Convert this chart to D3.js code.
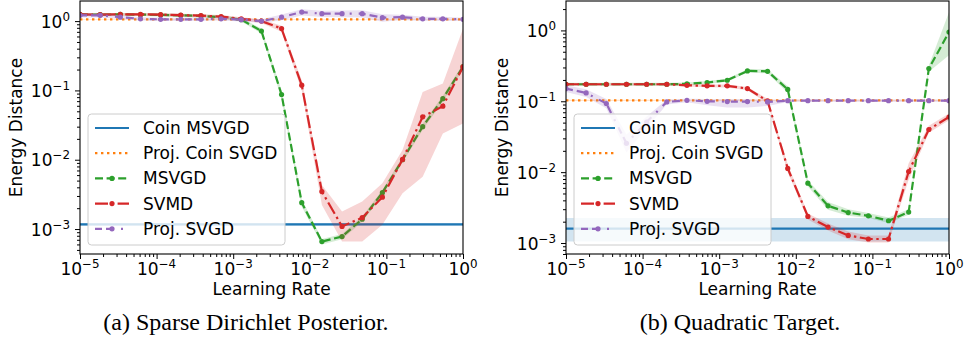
<!DOCTYPE html>
<html>
<head>
<meta charset="utf-8">
<script src="https://cdn.jsdelivr.net/npm/d3@7"></script>
<style>
  body { margin: 0; background: #fff; }
  svg { display: block; }
  text { font-family: "DejaVu Sans", sans-serif; fill: #000; }
  .caption { font-family: "Liberation Serif", "Times New Roman", serif; }
</style>
</head>
<body>
<svg id="fig" width="965" height="352"></svg>
<script>
// Learning rates swept (20 log-spaced values from 1e-5 to 1)
const learningRates = [1e-5, 1.833e-5, 3.360e-5, 6.158e-5, 1.129e-4, 2.069e-4, 3.793e-4, 6.952e-4,
  1.274e-3, 2.336e-3, 4.281e-3, 7.848e-3, 1.438e-2, 2.637e-2, 4.833e-2, 8.859e-2,
  0.1624, 0.2976, 0.5456, 1.0];

const seriesNames = ["Coin MSVGD", "Proj. Coin SVGD", "MSVGD", "SVMD", "Proj. SVGD"];
const seriesColors = ["#1f77b4", "#ff7f0e", "#2ca02c", "#d62728", "#9467bd"];

const xTickExponents = [-5, -4, -3, -2, -1, 0];
const yTickExponents = [-3, -2, -1, 0];
const captions = ["(a) Sparse Dirichlet Posterior.", "(b) Quadratic Target."];

// ---- (a) Sparse Dirichlet posterior ----
const dirCoinMsvgd = [1.17e-3, 1.12e-3, 1.22e-3];      // value, lower, upper
const dirProjCoinSvgd = [1.06, 1.05, 1.07];
const dirMsvgd   = [1.25, 1.24, 1.25, 1.24, 1.23, 1.21, 1.19, 1.14, 1.05, 0.72, 0.087, 2.4e-3, 6.6e-4, 7.8e-4, 1.39e-3, 3.35e-3, 0.0100, 0.030, 0.076, 0.22];
const dirMsvgdLo = [1.19, 1.18, 1.19, 1.18, 1.17, 1.15, 1.13, 1.08, 0.99, 0.66, 0.075, 2.1e-3, 6.0e-4, 7.1e-4, 1.27e-3, 3.05e-3, 0.0091, 0.027, 0.069, 0.20];
const dirMsvgdHi = [1.31, 1.30, 1.31, 1.30, 1.29, 1.27, 1.25, 1.20, 1.11, 0.78, 0.10, 2.7e-3, 7.2e-4, 8.5e-4, 1.52e-3, 3.65e-3, 0.0110, 0.033, 0.084, 0.24];
const dirSvmd    = [1.25, 1.24, 1.25, 1.25, 1.24, 1.22, 1.20, 1.16, 1.08, 1.00, 0.78, 0.119, 3.47e-3, 1.09e-3, 1.46e-3, 2.88e-3, 0.0101, 0.0416, 0.0593, 0.218];
const dirSvmdLo  = [1.19, 1.18, 1.19, 1.19, 1.18, 1.16, 1.14, 1.10, 1.02, 0.94, 0.70, 0.100, 2.23e-3, 6.6e-4, 6.6e-4, 1.15e-3, 3.29e-3, 5.7e-3, 0.024, 0.0334];
const dirSvmdHi  = [1.31, 1.30, 1.31, 1.31, 1.30, 1.28, 1.26, 1.22, 1.14, 1.06, 0.86, 0.14, 4.32e-3, 1.79e-3, 2.49e-3, 4.57e-3, 0.0138, 0.0951, 0.126, 0.778];
const dirProjSvgd   = [1.21, 1.21, 1.14, 1.08, 1.06, 1.06, 1.06, 1.08, 1.05, 1.00, 1.14, 1.35, 1.28, 1.28, 1.28, 1.12, 1.14, 1.08, 1.08, 1.06];
const dirProjSvgdLo = [1.13, 1.13, 1.07, 1.02, 1.00, 1.00, 1.00, 1.02, 0.99, 0.94, 1.03, 1.20, 1.15, 1.14, 1.13, 0.98, 1.04, 1.00, 1.00, 1.00];
const dirProjSvgdHi = [1.29, 1.29, 1.21, 1.14, 1.12, 1.12, 1.12, 1.14, 1.11, 1.06, 1.25, 1.48, 1.41, 1.42, 1.43, 1.26, 1.24, 1.16, 1.16, 1.12];

// ---- (b) Quadratic target ----
const quadCoinMsvgd = [1.6e-3, 1.05e-3, 2.25e-3];
const quadProjCoinSvgd = [0.103, 0.101, 0.105];
const quadMsvgd   = [0.174, 0.174, 0.174, 0.174, 0.174, 0.174, 0.176, 0.184, 0.198, 0.268, 0.265, 0.147, 6.98e-3, 3.35e-3, 2.69e-3, 2.42e-3, 2.06e-3, 2.73e-3, 0.289, 0.947];
const quadMsvgdLo = [0.166, 0.166, 0.166, 0.166, 0.166, 0.166, 0.168, 0.175, 0.188, 0.254, 0.248, 0.132, 6.25e-3, 2.94e-3, 2.43e-3, 2.25e-3, 1.92e-3, 2.5e-3, 0.26, 0.445];
const quadMsvgdHi = [0.182, 0.182, 0.182, 0.182, 0.182, 0.182, 0.184, 0.193, 0.208, 0.282, 0.282, 0.163, 7.6e-3, 3.8e-3, 3.0e-3, 2.65e-3, 2.3e-3, 3.0e-3, 0.32, 1.81];
const quadSvmd    = [0.174, 0.174, 0.174, 0.174, 0.174, 0.174, 0.168, 0.165, 0.165, 0.151, 0.101, 0.0113, 2.37e-3, 1.68e-3, 1.28e-3, 1.14e-3, 1.14e-3, 0.0102, 0.040, 0.060];
const quadSvmdLo  = [0.167, 0.167, 0.167, 0.167, 0.167, 0.167, 0.161, 0.158, 0.157, 0.143, 0.094, 0.0100, 2.15e-3, 1.5e-3, 1.13e-3, 1.02e-3, 1.02e-3, 7.8e-3, 0.036, 0.054];
const quadSvmdHi  = [0.181, 0.181, 0.181, 0.181, 0.181, 0.181, 0.175, 0.172, 0.173, 0.159, 0.108, 0.0128, 2.6e-3, 1.88e-3, 1.45e-3, 1.28e-3, 1.28e-3, 0.0133, 0.045, 0.067];
const quadProjSvgd   = [0.151, 0.131, 0.093, 0.0255, 0.051, 0.098, 0.103, 0.100, 0.099, 0.099, 0.098, 0.102, 0.102, 0.102, 0.102, 0.102, 0.102, 0.102, 0.102, 0.102];
const quadProjSvgdLo = [0.135, 0.115, 0.080, 0.019, 0.042, 0.090, 0.097, 0.088, 0.082, 0.082, 0.086, 0.098, 0.098, 0.098, 0.098, 0.098, 0.098, 0.098, 0.098, 0.098];
const quadProjSvgdHi = [0.168, 0.148, 0.108, 0.034, 0.061, 0.106, 0.109, 0.108, 0.108, 0.108, 0.106, 0.106, 0.106, 0.106, 0.106, 0.106, 0.106, 0.106, 0.106, 0.106];

// Line styles per series: dash pattern and whether point markers are drawn
const lineStyles = [
  { dash: null, marker: false },
  { dash: "2.4,3.6", marker: false },
  { dash: "8,3.6", marker: true },
  { dash: "13,3.6,2.4,3.6", marker: true },
  { dash: "7,4,8,7,2,7", marker: true }
];

const panels = [
  {
    left: 80, yDomain: [Math.pow(10, -3.36), Math.pow(10, 0.29)],
    ylabelX: 22, tickLabelX: 70, caption: captions[0], captionX: 246,
    constants: [dirCoinMsvgd, dirProjCoinSvgd],
    curves: [[dirMsvgd, dirMsvgdLo, dirMsvgdHi], [dirSvmd, dirSvmdLo, dirSvmdHi], [dirProjSvgd, dirProjSvgdLo, dirProjSvgdHi]]
  },
  {
    left: 566, yDomain: [Math.pow(10, -3.155), Math.pow(10, 0.415)],
    ylabelX: 508, tickLabelX: 556, caption: captions[1], captionX: 740,
    constants: [quadCoinMsvgd, quadProjCoinSvgd],
    curves: [[quadMsvgd, quadMsvgdLo, quadMsvgdHi], [quadSvmd, quadSvmdLo, quadSvmdHi], [quadProjSvgd, quadProjSvgdLo, quadProjSvgdHi]]
  }
];

const svg = d3.select("#fig");
const plotW = 383, plotTop = 1, plotBottom = 254;
const fontSize = 17, supSize = 11.9;
const lineW = 2.2, markerR = 2.6, bandOpacity = 0.2;

function minorTicks(lo, hi) {
  const out = [];
  for (let e = Math.floor(Math.log10(lo)); e <= Math.ceil(Math.log10(hi)); e++) {
    for (let m = 2; m <= 9; m++) {
      const v = m * Math.pow(10, e);
      if (v >= lo && v <= hi) out.push(v);
    }
  }
  return out;
}

function powerLabel(sel, exp) {
  sel.append("tspan").text("10");
  sel.append("tspan").attr("font-size", supSize).attr("dy", -7)
    .text(exp < 0 ? "\u2212" + (-exp) : String(exp));
}

panels.forEach((p, idx) => {
  const x = d3.scaleLog().domain([1e-5, 1]).range([p.left, p.left + plotW]);
  const y = d3.scaleLog().domain(p.yDomain).range([plotBottom, plotTop]);
  const g = svg.append("g");

  const clipId = "plot-clip-" + idx;
  g.append("clipPath").attr("id", clipId).append("rect")
    .attr("x", p.left).attr("y", plotTop).attr("width", plotW).attr("height", plotBottom - plotTop);
  const plot = g.append("g").attr("clip-path", `url(#${clipId})`);

  // Horizontal reference results (coin-based methods) with spread bands
  p.constants.forEach((c, k) => {
    const color = seriesColors[k];
    const ends = x.domain();
    plot.append("path")
      .datum(ends)
      .attr("d", d3.area().x(d => x(d)).y0(y(c[1])).y1(y(c[2])))
      .attr("fill", color).attr("fill-opacity", bandOpacity);
    plot.append("path")
      .datum(ends)
      .attr("d", d3.line().x(d => x(d)).y(y(c[0])))
      .attr("fill", "none").attr("stroke", color).attr("stroke-width", lineW)
      .attr("stroke-dasharray", lineStyles[k].dash);
  });

  // Learning-rate sweeps with spread bands
  p.curves.forEach((c, j) => {
    const k = j + 2;
    const color = seriesColors[k];
    const idxs = d3.range(learningRates.length);
    plot.append("path")
      .datum(idxs)
      .attr("d", d3.area().x(i => x(learningRates[i])).y0(i => y(c[1][i])).y1(i => y(c[2][i])))
      .attr("fill", color).attr("fill-opacity", bandOpacity);
    plot.append("path")
      .datum(idxs)
      .attr("d", d3.line().x(i => x(learningRates[i])).y(i => y(c[0][i])))
      .attr("fill", "none").attr("stroke", color).attr("stroke-width", lineW)
      .attr("stroke-dasharray", lineStyles[k].dash);
    plot.selectAll(null).data(idxs).enter().append("circle")
      .attr("cx", i => x(learningRates[i])).attr("cy", i => y(c[0][i]))
      .attr("r", markerR).attr("fill", color);
  });

  // Axes: major and minor ticks, labels drawn as powers of ten
  const xMajor = xTickExponents.map(e => Math.pow(10, e));
  const yMajor = yTickExponents.map(e => Math.pow(10, e));

  g.append("g").attr("transform", `translate(0,${plotBottom})`)
    .call(d3.axisBottom(x).tickValues(xMajor).tickSize(5).tickFormat(() => ""));
  g.append("g").attr("transform", `translate(0,${plotBottom})`)
    .call(d3.axisBottom(x).tickValues(minorTicks(1e-5, 1).filter(v => !xMajor.includes(v))).tickSize(3).tickFormat(() => ""));
  g.append("g").attr("transform", `translate(${p.left},0)`)
    .call(d3.axisLeft(y).tickValues(yMajor).tickSize(5).tickFormat(() => ""));
  g.append("g").attr("transform", `translate(${p.left},0)`)
    .call(d3.axisLeft(y).tickValues(minorTicks(p.yDomain[0], p.yDomain[1])).tickSize(3).tickFormat(() => ""));
  g.selectAll(".domain").remove();
  g.selectAll(".tick line").attr("stroke", "#000").attr("stroke-width", 1);
  g.selectAll(".tick text").remove();

  xTickExponents.forEach(e => {
    const t = g.append("text").attr("x", x(Math.pow(10, e))).attr("y", 275)
      .attr("text-anchor", "middle").attr("font-size", fontSize);
    powerLabel(t, e);
  });
  yTickExponents.forEach(e => {
    const t = g.append("text").attr("x", p.tickLabelX).attr("y", y(Math.pow(10, e)) + 6.5)
      .attr("text-anchor", "end").attr("font-size", fontSize);
    powerLabel(t, e);
  });

  // Frame
  g.append("rect").attr("x", p.left).attr("y", plotTop).attr("width", plotW).attr("height", plotBottom - plotTop)
    .attr("fill", "none").attr("stroke", "#000").attr("stroke-width", 1.1);

  // Axis titles
  g.append("text").attr("x", p.left + plotW / 2).attr("y", 295).attr("text-anchor", "middle")
    .attr("font-size", fontSize).text("Learning Rate");
  g.append("text").attr("transform", `translate(${p.ylabelX},${(plotTop + plotBottom) / 2}) rotate(-90)`)
    .attr("text-anchor", "middle").attr("font-size", fontSize).text("Energy Distance");

  // Legend
  const lx = p.left + 8, ly = 114, lw = 197, lh = 131, rowH = 25.2;
  const leg = g.append("g");
  leg.append("rect").attr("x", lx).attr("y", ly).attr("width", lw).attr("height", lh).attr("rx", 3.5)
    .attr("fill", "#fff").attr("fill-opacity", 0.8).attr("stroke", "#cccccc").attr("stroke-width", 1);
  seriesNames.forEach((name, k) => {
    const cy = ly + 14 + k * rowH;
    const hx0 = lx + 7, hx1 = lx + 41;
    leg.append("line").attr("x1", hx0).attr("x2", hx1).attr("y1", cy).attr("y2", cy)
      .attr("stroke", seriesColors[k]).attr("stroke-width", lineW)
      .attr("stroke-dasharray", lineStyles[k].dash);
    if (lineStyles[k].marker) {
      leg.append("circle").attr("cx", (hx0 + hx1) / 2).attr("cy", cy).attr("r", markerR).attr("fill", seriesColors[k]);
    }
    leg.append("text").attr("x", lx + 55).attr("y", cy + 6).attr("font-size", fontSize).text(name);
  });

  // Sub-figure caption
  svg.append("text").attr("class", "caption").attr("x", p.captionX).attr("y", 330)
    .attr("text-anchor", "middle").attr("font-size", 24).text(p.caption);
});
</script>
</body>
</html>
